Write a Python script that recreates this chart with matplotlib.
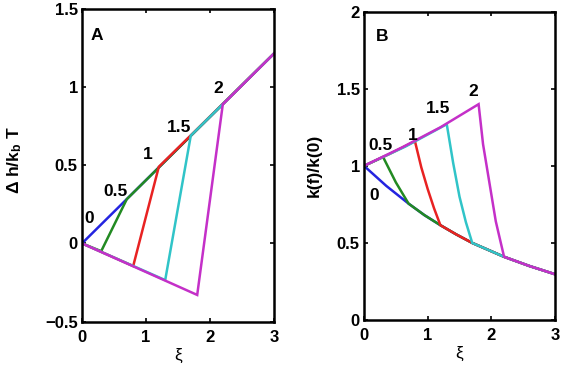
import matplotlib
matplotlib.use("Agg")
import matplotlib.pyplot as plt

plt.rcParams['font.family'] = ['Liberation Sans', 'DejaVu Sans']
plt.rcParams['mathtext.fontset'] = 'custom'
plt.rcParams['mathtext.rm'] = 'Liberation Sans:bold'
plt.rcParams['mathtext.default'] = 'rm'

# ---- data ----
forces = [0, 0.5, 1, 1.5, 2]
force_labels = ['0', '0.5', '1', '1.5', '2']
colors = ['#2424e0', '#228a22', '#e82222', '#30c4c8', '#c430c8']

# Panel A: Delta h / kbT vs xi (one polyline per force)
xi_A = [
    [0, 3],
    [0, 0.3, 0.7, 3],
    [0, 0.8, 1.2, 3],
    [0, 1.3, 1.7, 3],
    [0, 1.8, 2.2, 3],
]
dh_A = [
    [0, 1.215],
    [0, -0.05, 0.283, 1.215],
    [0, -0.145, 0.49, 1.215],
    [0, -0.235, 0.69, 1.215],
    [0, -0.33, 0.89, 1.215],
]

# Panel B: k(f)/k(0) vs xi
xi_B = [
    [0, 0.35, 0.7, 0.95, 1.2, 1.45, 1.7, 1.95, 2.2, 2.6, 3],
    [0, 0.3, 0.5, 0.7, 0.95, 1.2, 1.45, 1.7, 1.95, 2.2, 2.6, 3],
    [0, 0.4, 0.8, 0.9, 1.0, 1.1, 1.2, 1.45, 1.7, 1.95, 2.2, 2.6, 3],
    [0, 0.65, 1.3, 1.4, 1.5, 1.6, 1.7, 1.95, 2.2, 2.6, 3],
    [0, 0.6, 1.2, 1.8, 1.87, 1.97, 2.07, 2.2, 2.6, 3],
]
k_B = [
    [1.0, 0.87, 0.755, 0.68, 0.615, 0.555, 0.50, 0.455, 0.41, 0.35, 0.297],
    [1.0, 1.057, 0.893, 0.755, 0.68, 0.615, 0.555, 0.50, 0.455, 0.41, 0.35, 0.297],
    [1.0, 1.077, 1.16, 0.99, 0.85, 0.725, 0.615, 0.555, 0.50, 0.455, 0.41, 0.35, 0.297],
    [1.0, 1.125, 1.27, 1.02, 0.80, 0.635, 0.50, 0.455, 0.41, 0.35, 0.297],
    [1.0, 1.12, 1.25, 1.40, 1.14, 0.89, 0.64, 0.41, 0.35, 0.297],
]

labA_xy = [(0.11, 0.16), (0.52, 0.33), (1.03, 0.57), (1.52, 0.74), (2.13, 0.99)]
labB_xy = [(0.16, 0.81), (0.26, 1.13), (0.77, 1.20), (1.16, 1.37), (1.72, 1.485)]

fig = plt.figure(figsize=(5.62, 3.70), dpi=100)
axA = fig.add_axes([82/562, 1 - 321.5/370, 192/562, 312.5/370])
axB = fig.add_axes([364/562, 1 - 320/370, 191/562, 308.3/370])


def style(ax):
    for s in ax.spines.values():
        s.set_linewidth(1.8)
    ax.tick_params(direction='in', length=3, width=1.2, top=True, right=True,
                   labelsize=12)
    ax.tick_params(axis='x', pad=6)
    ax.tick_params(axis='y', pad=3)
    for lab in ax.get_xticklabels() + ax.get_yticklabels():
        lab.set_fontweight('bold')
    ax.set_xlabel('ξ', fontsize=12.5, labelpad=2)


for xs, ys, c in zip(xi_A, dh_A, colors):
    axA.plot(xs, ys, color=c, lw=1.8, solid_joinstyle='miter')
for (x, y), t in zip(labA_xy, force_labels):
    axA.text(x, y, t, fontsize=12.5, fontweight='bold', ha='center', va='center')
axA.text(0.23, 1.33, 'A', fontsize=12.5, fontweight='bold', ha='center', va='center')
axA.set_xlim(0, 3)
axA.set_ylim(-0.5, 1.5)
axA.set_xticks([0, 1, 2, 3])
axA.set_yticks([-0.5, 0, 0.5, 1, 1.5])
axA.set_yticklabels(['\u22120.5', '0', '0.5', '1', '1.5'])
style(axA)
axA.set_ylabel('Δ h/k$_{b}$ T', fontsize=12.5, fontweight='bold')
axA.yaxis.set_label_coords(-0.30, 0.515)

for xs, ys, c in zip(xi_B, k_B, colors):
    axB.plot(xs, ys, color=c, lw=1.8, solid_joinstyle='miter')
for (x, y), t in zip(labB_xy, force_labels):
    axB.text(x, y, t, fontsize=12.5, fontweight='bold', ha='center', va='center')
axB.text(0.28, 1.84, 'B', fontsize=12.5, fontweight='bold', ha='center', va='center')
axB.set_xlim(0, 3)
axB.set_ylim(0, 2)
axB.set_xticks([0, 1, 2, 3])
axB.set_yticks([0, 0.5, 1, 1.5, 2])
axB.set_yticklabels(['0', '0.5', '1', '1.5', '2'])
style(axB)
axB.set_ylabel('k(f)/k(0)', fontsize=12.5, fontweight='bold')
axB.yaxis.set_label_coords(-0.22, 0.5)

fig.savefig('out.png', dpi=100)
